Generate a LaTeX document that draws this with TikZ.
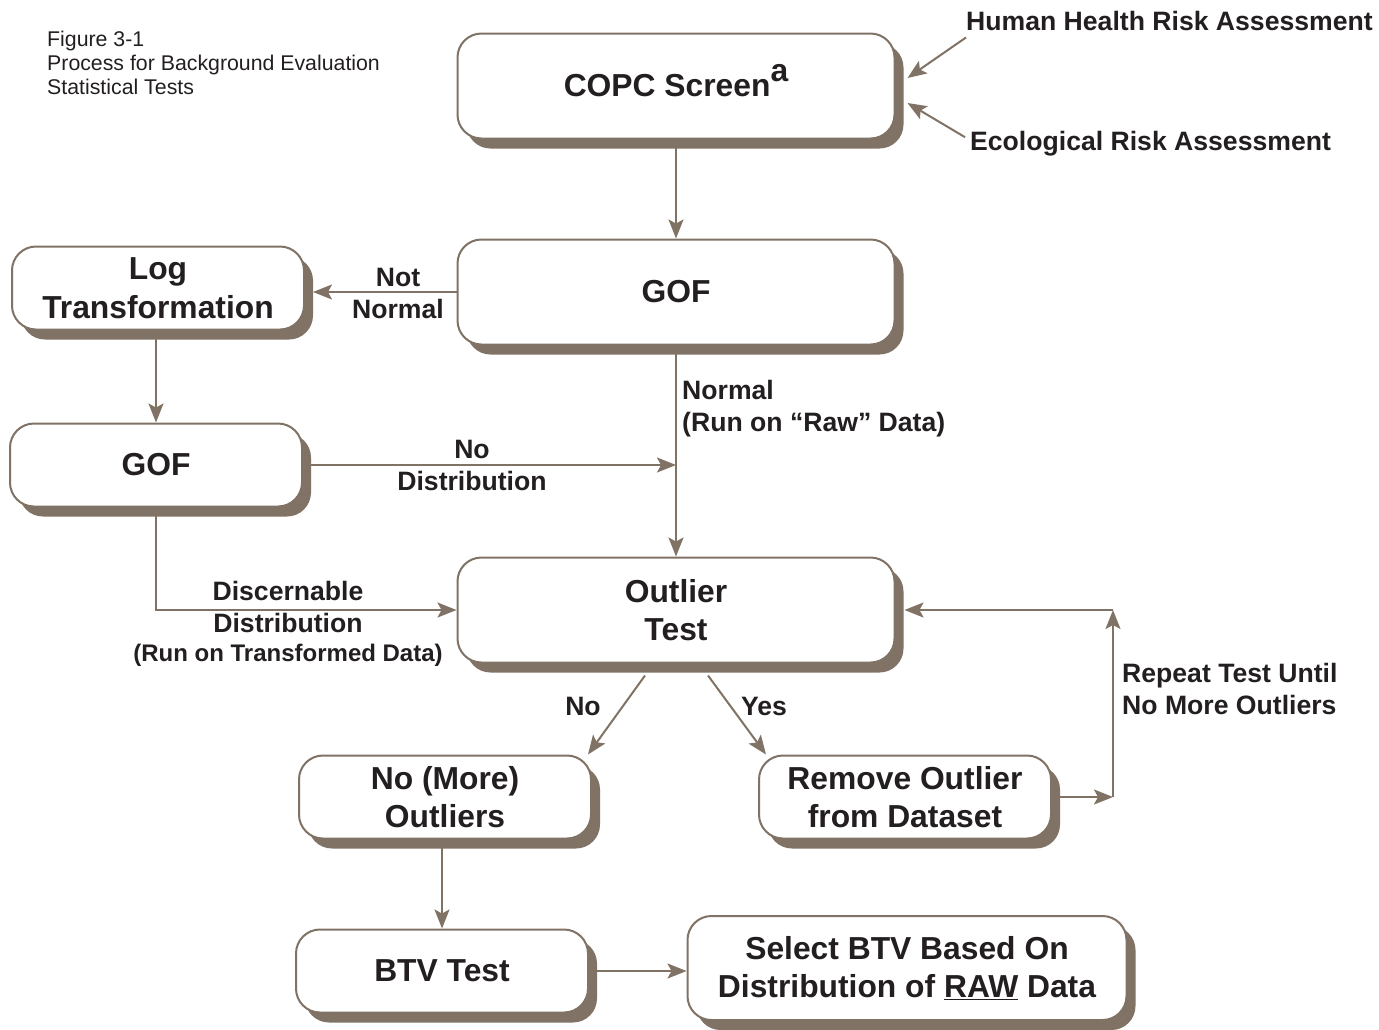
\documentclass[tikz,border=0pt]{standalone}
\usepackage{fontspec}
\setmainfont{Liberation Sans}
\usetikzlibrary{arrows.meta,shadows}
\definecolor{taupe}{RGB}{128,114,100}
\definecolor{ink}{RGB}{35,31,32}

\begin{document}
\begin{tikzpicture}
    [x=1pt, y=-1pt,
    every node/.style={text=ink},
    box/.style={draw=taupe, line width=2pt, fill=white, rounded corners=24pt,
      align=center, font=\fontsize{31.8}{38.5}\selectfont\bfseries,
      drop shadow={shadow xshift=9pt, shadow yshift=-10pt, fill=taupe, opacity=1}},
    wide box/.style={box, minimum width=437pt, minimum height=105pt},
    small box/.style={box, minimum width=292pt, minimum height=83pt},
    lbl/.style={inner sep=0pt, align=center, font=\fontsize{26.6}{32}\selectfont\bfseries},
    flow/.style={draw=taupe, line width=2pt, -{Stealth[length=19pt,width=15pt,inset=4pt]}}]
    \useasboundingbox (0,0) rectangle (1379,1029);
    \node[anchor=north west, inner sep=0pt, align=left, font=\fontsize{21.3}{24}\selectfont]
      (caption) at (47,31) {Figure 3-1\\Process for Background Evaluation\\Statistical Tests};
    % the flow boxes
    \node[wide box] (copc) at (676,86)
      {COPC Screen\smash{\raisebox{15pt}{a}}};
    \node[wide box] (gofa) at (676,292) {GOF};
    \node[small box] (logt) at (158,288) {Log\\Transformation};
    \node[small box] (gofb) at (156,465) {GOF};
    \node[wide box] (outl) at (676,610) {Outlier\\Test};
    \node[small box] (nomore) at (445,797) {No (More)\\Outliers};
    \node[small box] (remove) at (905,797) {Remove Outlier\\from Dataset};
    \node[small box] (btv) at (442,971) {BTV Test};
    \node[wide box, minimum width=439pt, minimum height=104pt]
      (select) at (907,968) {Select BTV Based On\\Distribution of \underline{RAW} Data};
    % labels
    \node[lbl, anchor=base west] (hhra) at (966,30) {Human Health Risk Assessment};
    \node[lbl, anchor=base west] (era) at (970,150) {Ecological Risk Assessment};
    \node[lbl] (notnorm) at (398,293) {Not\\Normal};
    \node[lbl, align=left, anchor=west] (normal) at (682,409) {Normal\\(Run on “Raw” Data)};
    \node[lbl] (nodist) at (472,465) {No\\Distribution};
    \node[lbl] (discern) at (288,624)
      {Discernable\\Distribution\\[-3pt]{\fontsize{24}{29}\selectfont(Run on Transformed Data)}};
    \node[lbl] (no) at (583,706) {No};
    \node[lbl] (yes) at (764,706) {Yes};
    \node[lbl, align=left, anchor=west] (repeat) at (1122,689) {Repeat Test Until\\No More Outliers};
    \coordinate (back) at (1113,0);
    % connectors
    \draw[flow] ([yshift=-7pt]hhra.south west) -- ([xshift=12pt,yshift=8pt]copc.east);
    \draw[flow] ([xshift=-5pt,yshift=6pt]era.west) -- ([xshift=12pt,yshift=-17pt]copc.east);
    \draw[flow] (copc.south) -- (gofa.north);
    \draw[flow, shorten >=8pt] (gofa.west) -- (gofa.west -| logt.east);
    \draw[flow] (logt.south -| gofb.north) -- (gofb.north);
    \draw[flow] (gofa.south) -- (outl.north);
    \draw[flow] (gofb.east) -- (gofb.east -| gofa.south);
    \draw[flow] (gofb.south) |- (outl.west);
    \draw[flow] ([xshift=-31pt,yshift=-12pt]outl.south) -- ([xshift=-4pt]nomore.north east);
    \draw[flow] ([xshift=32pt,yshift=-12pt]outl.south) -- ([xshift=8pt]remove.north west);
    \draw[flow] (remove.east) -- (remove.east -| back);
    \draw[flow] (remove.east -| back) -- (outl.east -| back);
    \draw[flow, shorten >=9pt] (outl.east -| back) -- (outl.east);
    \draw[flow] (btv.north |- nomore.south) -- (btv.north);
    \draw[flow] (btv.east) -- (btv.east -| select.west);
\end{tikzpicture}
\end{document}
